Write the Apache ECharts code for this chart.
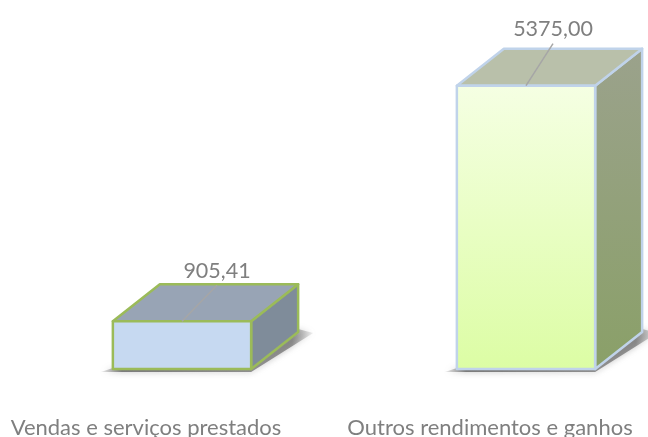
<!DOCTYPE html>
<html>
<head>
<meta charset="utf-8">
<style>
html, body { margin: 0; padding: 0; background: #fff; }
#chart { width: 648px; height: 437px; }
</style>
<script src="https://cdn.jsdelivr.net/npm/echarts@6/dist/echarts.min.js"></script>
</head>
<body>
<div id="chart"></div>
<script>
var categories = ['Vendas e serviços prestados', 'Outros rendimentos e ganhos'];
var values = [905.41, 5375.00];

var chart = echarts.init(document.getElementById('chart'));

var FONT = 'Lato, "Open Sans", sans-serif';
var SHIFT = 36;         // front face sits right of the category centre
var DX = 47, DY = 37;   // depth of the box

var looks = [
    {
        stroke: '#9bbb59',
        front: ['#c6d9f1', '#c6d9f1'],
        top: '#98a4b5',
        side: ['#7f8c9a', '#7f8c9a'],
        leader: [35, -36],
        labelOffset: [35, -50]
    },
    {
        stroke: '#c0d3ea',
        front: ['#f5ffe3', '#dcfda4'],
        top: '#b9c0aa',
        side: ['#9ba28c', '#8aa068'],
        leader: [27, -42],
        labelOffset: [27, -57]
    }
];

function vGrad(c) {
    return new echarts.graphic.LinearGradient(0, 0, 0, 1, [
        { offset: 0, color: c[0] },
        { offset: 1, color: c[1] }
    ]);
}

function renderBox(params, api) {
    var i = api.value(0);
    var look = looks[i];
    var p = api.coord([i, api.value(1)]);
    var base = api.coord([i, 0]);
    var w = api.size([1, 0])[0] * 0.402;
    var cx = p[0] + SHIFT;
    var l = cx - w / 2, r = cx + w / 2, t = p[1], b = base[1];

    var lineStyle = { stroke: look.stroke, lineWidth: 2.5, lineJoin: 'round' };
    return {
        type: 'group',
        children: [
            {
                type: 'polygon',
                shape: { points: [[l - 12, b + 3], [r, b + 3], [r + DX + 15, b - DY + 1], [r + DX, b - DY - 3], [r, b], [l, b - 1]] },
                style: {
                    fill: new echarts.graphic.LinearGradient(0, 0, 1, 0, [
                        { offset: 0, color: 'rgba(90,90,90,0.1)' },
                        { offset: 0.1, color: 'rgba(80,80,80,0.7)' },
                        { offset: 0.9, color: 'rgba(90,90,90,0.6)' },
                        { offset: 1, color: 'rgba(110,110,110,0.1)' }
                    ]),
                    shadowBlur: 6,
                    shadowColor: 'rgba(90,90,90,0.6)'
                }
            },
            {
                type: 'polygon',
                shape: { points: [[r, t], [r + DX, t - DY], [r + DX, b - DY], [r, b]] },
                style: Object.assign({ fill: vGrad(look.side) }, lineStyle)
            },
            {
                type: 'polygon',
                shape: { points: [[l, t], [l + DX, t - DY], [r + DX, t - DY], [r, t]] },
                style: Object.assign({ fill: look.top }, lineStyle)
            },
            {
                type: 'rect',
                shape: { x: l, y: t, width: w, height: b - t },
                style: Object.assign({ fill: vGrad(look.front) }, lineStyle)
            },
            {
                type: 'line',
                shape: { x1: cx, y1: t, x2: cx + look.leader[0], y2: t + look.leader[1] },
                style: { stroke: '#a6a6a6', lineWidth: 1.5 }
            },
            {
                type: 'text',
                style: {
                    x: cx + look.labelOffset[0],
                    y: t + look.labelOffset[1],
                    text: api.value(1).toFixed(2).replace('.', ','),
                    fill: '#7f7f7f',
                    font: '21.5px ' + FONT,
                    align: 'center',
                    verticalAlign: 'middle'
                }
            }
        ]
    };
}

chart.setOption({
    animation: false,
    grid: { left: -26, width: 688, top: 0, bottom: 68, outerBoundsMode: 'none' },
    xAxis: {
        type: 'category',
        data: categories,
        axisLine: { show: false },
        axisTick: { show: false },
        axisLabel: {
            color: '#7f7f7f',
            fontFamily: FONT,
            fontSize: 22,
            margin: 48,
            interval: 0
        }
    },
    yAxis: {
        type: 'value',
        min: 0,
        max: 7000,
        show: false
    },
    series: [
        {
            type: 'custom',
            clip: false,
            renderItem: renderBox,
            encode: { x: 0, y: 1 },
            data: values.map(function (v, i) { return [i, v]; })
        }
    ]
});
</script>
</body>
</html>
